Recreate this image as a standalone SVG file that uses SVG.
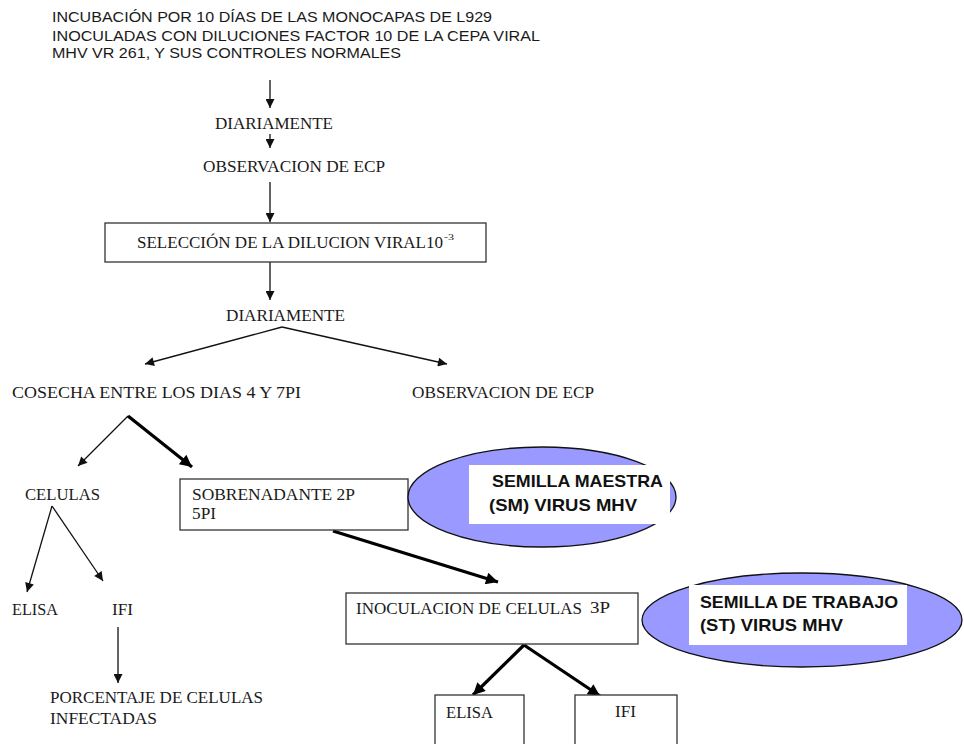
<svg xmlns="http://www.w3.org/2000/svg" width="964" height="744" viewBox="0 0 964 744">
  <style>
    .sans { font-family: "Liberation Sans", Arial, sans-serif; font-size: 15px; fill: #1a1a1a; }
    .serif { font-family: "Liberation Serif", "Times New Roman", serif; font-size: 17px; fill: #1a1a1a; }
    .bold { font-family: "Liberation Sans", Arial, sans-serif; font-size: 17px; font-weight: bold; fill: #111; }
    .box { fill: #fff; stroke: #333; stroke-width: 1.3; }
    .seed { fill: #9999ff; stroke: #111; stroke-width: 1.3; }
    .label-bg { fill: #fff; }
    .thin { stroke: #111; stroke-width: 1.3; fill: none; marker-end: url(#headThin); }
    .thick { stroke: #000; stroke-width: 3.2; fill: none; marker-end: url(#headThick); }
  </style>
  <defs>
    <marker id="headThin" viewBox="0 0 10 10" refX="10" refY="5" markerWidth="11" markerHeight="9" markerUnits="userSpaceOnUse" orient="auto">
      <path d="M0,0 L10,5 L0,10 z" fill="#111"/>
    </marker>
    <marker id="headThick" viewBox="0 0 10 10" refX="10" refY="5" markerWidth="15" markerHeight="12" markerUnits="userSpaceOnUse" orient="auto">
      <path d="M0,0 L10,5 L0,10 z" fill="#000"/>
    </marker>
  </defs>

  <rect width="964" height="744" fill="#fff"/>

  <!-- connectors -->
  <g id="connectors">
    <line class="thin" x1="270" y1="80" x2="270" y2="108"/>
    <line class="thin" x1="270" y1="134" x2="270" y2="148"/>
    <line class="thin" x1="270" y1="182" x2="270" y2="222"/>
    <line class="thin" x1="270" y1="262" x2="270" y2="300"/>
    <line class="thin" x1="282" y1="327" x2="145" y2="364"/>
    <line class="thin" x1="282" y1="327" x2="447" y2="364"/>
    <line class="thin" x1="128" y1="416" x2="78" y2="466"/>
    <line class="thick" x1="128" y1="416" x2="192" y2="467"/>
    <line class="thin" x1="52" y1="506" x2="27" y2="592"/>
    <line class="thin" x1="52" y1="506" x2="103" y2="581"/>
    <line class="thin" x1="118" y1="627" x2="118" y2="683"/>
    <line class="thick" x1="333" y1="531" x2="498" y2="582"/>
    <line class="thick" x1="524" y1="645" x2="473" y2="695"/>
    <line class="thick" x1="524" y1="645" x2="600" y2="696"/>
  </g>

  <g id="incubacion">
    <text class="sans" x="52" y="22" textLength="440" lengthAdjust="spacingAndGlyphs">INCUBACIÓN POR 10 DÍAS DE LAS MONOCAPAS DE L929</text>
    <text class="sans" x="52" y="41" textLength="488" lengthAdjust="spacingAndGlyphs">INOCULADAS CON DILUCIONES FACTOR 10 DE LA CEPA VIRAL</text>
    <text class="sans" x="52" y="58" textLength="349" lengthAdjust="spacingAndGlyphs">MHV VR 261, Y SUS CONTROLES NORMALES</text>
  </g>

  <g id="diariamente1">
    <text class="serif" x="215" y="129" textLength="118" lengthAdjust="spacingAndGlyphs">DIARIAMENTE</text>
  </g>

  <g id="observacion1">
    <text class="serif" x="203" y="172" textLength="182" lengthAdjust="spacingAndGlyphs">OBSERVACION DE ECP</text>
  </g>

  <g id="seleccion">
    <rect class="box" x="105" y="223" width="381" height="39"/>
    <text class="serif" x="137" y="248" textLength="306" lengthAdjust="spacingAndGlyphs">SELECCIÓN DE LA DILUCION VIRAL10</text>
    <text class="serif" x="444" y="240" style="font-size:9px" textLength="10" lengthAdjust="spacingAndGlyphs">-3</text>
  </g>

  <g id="diariamente2">
    <text class="serif" x="226" y="321" textLength="119" lengthAdjust="spacingAndGlyphs">DIARIAMENTE</text>
  </g>

  <g id="cosecha">
    <text class="serif" x="12" y="398" textLength="289" lengthAdjust="spacingAndGlyphs">COSECHA ENTRE LOS DIAS 4 Y 7PI</text>
  </g>

  <g id="observacion2">
    <text class="serif" x="412" y="398" textLength="182" lengthAdjust="spacingAndGlyphs">OBSERVACION DE ECP</text>
  </g>

  <g id="celulas">
    <text class="serif" x="25" y="500" textLength="75" lengthAdjust="spacingAndGlyphs">CELULAS</text>
  </g>

  <g id="sobrenadante">
    <rect class="box" x="180" y="479" width="228" height="51"/>
    <text class="serif" x="192" y="500" textLength="163" lengthAdjust="spacingAndGlyphs">SOBRENADANTE 2P</text>
    <text class="serif" x="192" y="519" textLength="24" lengthAdjust="spacingAndGlyphs">5PI</text>
  </g>

  <g id="semilla-maestra">
    <ellipse class="seed" cx="542" cy="497" rx="134" ry="50"/>
    <rect class="label-bg" x="469" y="465" width="201" height="59"/>
    <text class="bold" x="492" y="487" textLength="171" lengthAdjust="spacingAndGlyphs">SEMILLA MAESTRA</text>
    <text class="bold" x="489" y="511" textLength="148" lengthAdjust="spacingAndGlyphs">(SM) VIRUS MHV</text>
  </g>

  <g id="elisa1">
    <text class="serif" x="12" y="615" textLength="46" lengthAdjust="spacingAndGlyphs">ELISA</text>
  </g>

  <g id="ifi1">
    <text class="serif" x="112" y="615" textLength="21" lengthAdjust="spacingAndGlyphs">IFI</text>
  </g>

  <g id="porcentaje">
    <text class="serif" x="50" y="703" textLength="213" lengthAdjust="spacingAndGlyphs">PORCENTAJE DE CELULAS</text>
    <text class="serif" x="50" y="724" textLength="107" lengthAdjust="spacingAndGlyphs">INFECTADAS</text>
  </g>

  <g id="inoculacion">
    <rect class="box" x="346" y="593" width="292" height="51"/>
    <text class="serif" x="356" y="614" textLength="226" lengthAdjust="spacingAndGlyphs">INOCULACION DE CELULAS</text>
    <text class="serif" x="590" y="613" textLength="20" lengthAdjust="spacingAndGlyphs">3P</text>
  </g>

  <g id="semilla-trabajo">
    <ellipse class="seed" cx="802" cy="620" rx="160" ry="47"/>
    <rect class="label-bg" x="689" y="585" width="218" height="60"/>
    <text class="bold" x="700" y="608" textLength="198" lengthAdjust="spacingAndGlyphs">SEMILLA DE TRABAJO</text>
    <text class="bold" x="700" y="631" textLength="143" lengthAdjust="spacingAndGlyphs">(ST) VIRUS MHV</text>
  </g>

  <g id="elisa2">
    <rect class="box" x="435" y="695" width="89" height="60"/>
    <text class="serif" x="446" y="718" textLength="47" lengthAdjust="spacingAndGlyphs">ELISA</text>
  </g>

  <g id="ifi2">
    <rect class="box" x="575" y="695" width="102" height="60"/>
    <text class="serif" x="615" y="717" textLength="21" lengthAdjust="spacingAndGlyphs">IFI</text>
  </g>
</svg>
